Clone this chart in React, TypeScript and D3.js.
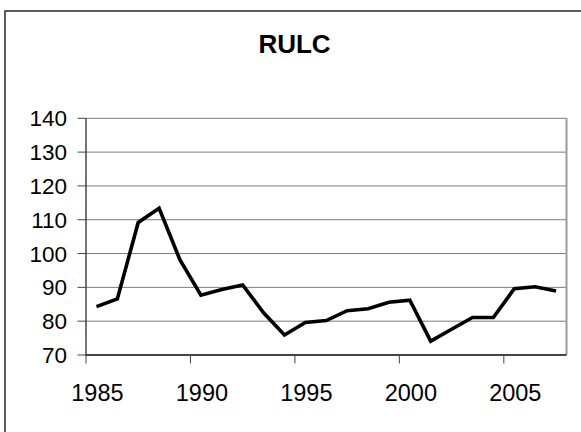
import React from "react";
import * as d3 from "d3";

const years: number[] = d3.range(1985, 2008);
const values: number[] = [
  84.3, 86.6, 109.2, 113.4, 98.1, 87.7, 89.4, 90.7, 82.5, 75.9, 79.6, 80.2,
  83.1, 83.7, 85.6, 86.2, 74.1, 77.6, 81.1, 81.1, 89.6, 90.2, 88.9,
];
const yTicks: number[] = [70, 80, 90, 100, 110, 120, 130, 140];
const xLabelYears: number[] = [1985, 1990, 1995, 2000, 2005];
const title = "RULC";

const W = 581;
const H = 432;
const left = 86;
const right = 566.5;
const top = 118.3;
const bottom = 355;
const font = "'Liberation Sans', Arial, Helvetica, sans-serif";

export default function App() {
  const x = d3
    .scaleBand<number>()
    .domain(years)
    .range([left, right])
    .paddingInner(0)
    .paddingOuter(0);
  const y = d3.scaleLinear().domain([70, 140]).range([bottom, top]);

  const line = d3
    .line<number>()
    .x((_, i) => (x(years[i]) as number) + x.bandwidth() / 2)
    .y((d) => y(d));

  return (
    <svg
      width={W}
      height={H}
      style={{ position: "absolute", left: 0, top: 0, background: "#fff" }}
    >
      <rect x={0} y={0} width={W} height={H} fill="#fff" />
      {/* outer chart border (cut off at right and bottom) */}
      <rect
        x={5}
        y={11}
        width={W + 20}
        height={H + 20}
        fill="none"
        stroke="#2a2a2a"
        strokeWidth={1.5}
      />
      <text
        x={294.5}
        y={53}
        textAnchor="middle"
        fontFamily={font}
        fontWeight="bold"
        fontSize={26}
        fill="#000"
      >
        {title}
      </text>

      {/* gridlines */}
      {yTicks
        .filter((t) => t > 70)
        .map((t) => (
          <line
            key={"g" + t}
            x1={left}
            x2={right}
            y1={y(t)}
            y2={y(t)}
            stroke="#7a7a7a"
            strokeWidth={1}
          />
        ))}
      {/* right plot border */}
      <line
        x1={right}
        x2={right}
        y1={top}
        y2={bottom}
        stroke="#9a9a9a"
        strokeWidth={2}
      />

      {/* y axis */}
      <line x1={left} x2={left} y1={top} y2={bottom + 1} stroke="#444" strokeWidth={1.5} />
      {yTicks.map((t) => (
        <g key={"y" + t}>
          <line x1={left - 8.5} x2={left} y1={y(t)} y2={y(t)} stroke="#444" strokeWidth={1} />
          <text
            x={67}
            y={y(t)}
            dy="0.36em"
            textAnchor="end"
            fontFamily={font}
            fontSize={22.5}
            fill="#000"
          >
            {t}
          </text>
        </g>
      ))}

      {/* x axis */}
      <line x1={left} x2={right} y1={bottom} y2={bottom} stroke="#444" strokeWidth={2} />
      {xLabelYears.map((yr) => {
        const bx = x(yr) as number;
        return (
          <g key={"x" + yr}>
            <line x1={bx} x2={bx} y1={bottom} y2={bottom + 8.5} stroke="#444" strokeWidth={1} />
            <text
              x={bx + x.bandwidth() / 2 + 1}
              y={400.5}
              textAnchor="middle"
              fontFamily={font}
              fontSize={23.5}
              fill="#000"
            >
              {yr}
            </text>
          </g>
        );
      })}

      {/* data line */}
      <path
        d={line(values) || ""}
        fill="none"
        stroke="#000"
        strokeWidth={3.6}
        strokeLinejoin="miter"
        strokeLinecap="butt"
      />
    </svg>
  );
}
